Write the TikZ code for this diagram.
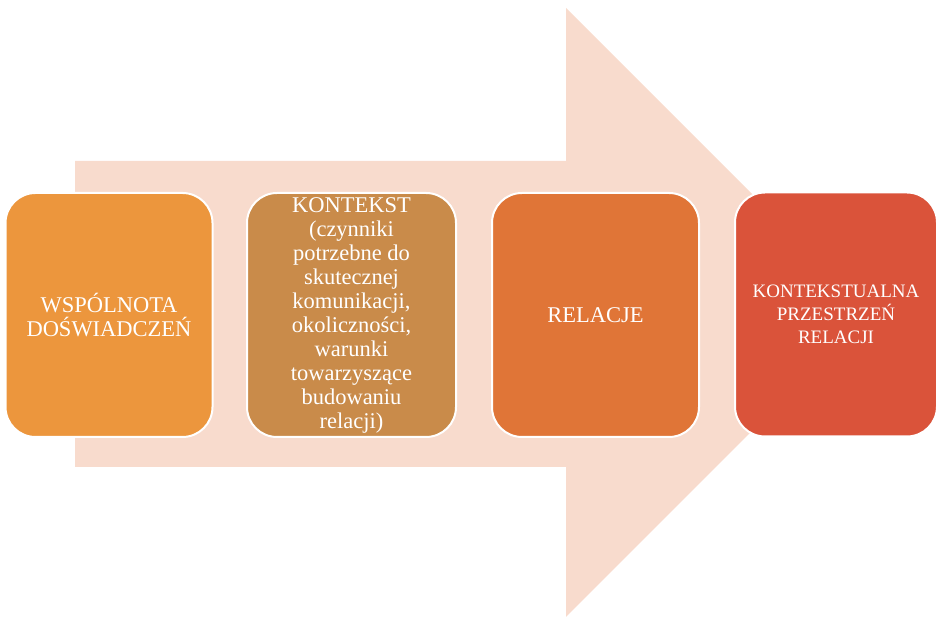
\documentclass[tikz,border=0pt]{standalone}
\usepackage{fontspec}
\setmainfont{Liberation Serif}
\definecolor{arrowc}{RGB}{248,219,205}
\definecolor{c1}{RGB}{236,150,61}
\definecolor{c2}{RGB}{201,139,74}
\definecolor{c3}{RGB}{224,117,55}
\definecolor{c4}{RGB}{218,83,58}
\tikzset{
  box/.style={draw=white, line width=2pt, rounded corners=30pt, minimum width=207pt, minimum height=244pt, text=white, align=center, inner sep=0pt, font=\fontsize{22.5}{24}\selectfont},
}
\begin{document}
\begin{tikzpicture}[x=1pt,y=1pt]
\useasboundingbox (0,0) rectangle (938,617);
% big arrow
\fill[arrowc] (75,456) -- (566,456) -- (566,609) -- (870.5,304.5) -- (566,0) -- (566,150) -- (75,150) -- cycle;
% boxes
\node[box, fill=c1] (b1) at (109,302) {WSPÓLNOTA\\DOŚWIADCZEŃ};
\node[box, fill=c2, minimum width=209pt] (b2) at (351.5,302) {KONTEKST\\(czynniki\\potrzebne do\\skutecznej\\komunikacji,\\okoliczności,\\warunki\\towarzyszące\\budowaniu\\relacji)};
\node[box, fill=c3] (b3) at (595.5,302) {RELACJE};
\node[box, fill=c4, minimum width=202pt, font=\fontsize{19}{23}\selectfont] (b4) at (836,302.5) {KONTEKSTUALNA\\PRZESTRZEŃ\\RELACJI};
\end{tikzpicture}
\end{document}
